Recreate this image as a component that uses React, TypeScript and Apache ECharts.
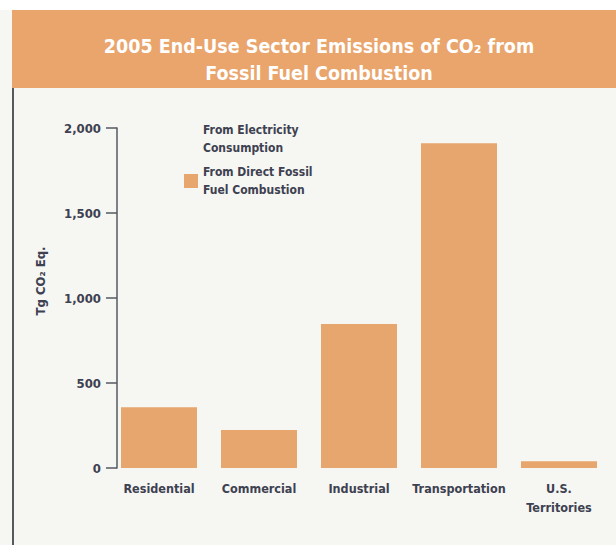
import React, { useEffect, useRef } from "react";
import * as echarts from "echarts";

const categories = ["Residential", "Commercial", "Industrial", "Transportation", "U.S.\nTerritories"];
const directFossil = [358, 224, 847, 1910, 40];
const electricity: number[] = [];
const yTicks = [0, 500, 1000, 1500, 2000];

const FONT = "'Liberation Sans Narrow', 'DejaVu Sans Condensed', 'Roboto', sans-serif";
const TEXT = "#3d4150";
const ORANGE = "#e6a66d";

export default function App() {
  const ref = useRef<HTMLDivElement>(null);
  useEffect(() => {
    if (!ref.current) return;
    const chart = echarts.init(ref.current, undefined, { renderer: "svg" });
    chart.setOption({
      animation: false,
      backgroundColor: "#f6f6f3",
      textStyle: { fontFamily: FONT },
      title: {
        text: "2005 End-Use Sector Emissions of CO₂ from\nFossil Fuel Combustion",
        left: 314,
        top: 28,
        textAlign: "center",
        textStyle: {
          color: "#ffffff",
          fontFamily: FONT,
          fontWeight: "bold",
          fontSize: 19.5,
          lineHeight: 27,
        },
      },
      graphic: [
        { type: "rect", left: 0, top: 0, shape: { width: 616, height: 10 }, style: { fill: "#ffffff" }, z: -10 },
        { type: "rect", left: 12, top: 10, shape: { width: 604, height: 78 }, style: { fill: "#e9a56c" }, z: -5 },
        { type: "rect", left: 12, top: 88, shape: { width: 2, height: 457 }, style: { fill: "#55585f" } },
        {
          type: "text",
          x: 40,
          y: 281,
          rotation: Math.PI / 2,
          style: {
            text: "Tg CO₂ Eq.",
            fill: TEXT,
            font: `bold 13px ${FONT}`,
            align: "center",
            verticalAlign: "middle",
          },
        },
      ],
      legend: {
        orient: "vertical",
        left: 179,
        top: 107,
        itemWidth: 14,
        itemHeight: 14,
        itemGap: -12,
        icon: "rect",
        selectedMode: false,
        data: [
          { name: "From Electricity\nConsumption", itemStyle: { color: "rgba(0,0,0,0)" } },
          { name: "From Direct Fossil\nFuel Combustion" },
        ],
        textStyle: {
          color: TEXT,
          fontFamily: FONT,
          fontWeight: "bold",
          fontSize: 12,
          lineHeight: 18,
          padding: [18, 0, 0, 0],
        },
      },
      grid: { left: 109, right: 7, top: 128, bottom: 77, containLabel: false },
      xAxis: {
        type: "category",
        data: categories,
        axisLine: { show: false },
        axisTick: { show: false },
        axisLabel: {
          interval: 0,
          color: TEXT,
          fontFamily: FONT,
          fontWeight: "bold",
          fontSize: 12.5,
          lineHeight: 19,
          margin: 11,
        },
      },
      yAxis: {
        type: "value",
        min: 0,
        max: 2000,
        interval: 500,
        offset: -8,
        splitLine: { show: false },
        axisLine: { show: true, lineStyle: { color: "#55585f", width: 1.5 } },
        axisTick: { show: true, length: 11, lineStyle: { color: "#55585f", width: 1.5 } },
        axisLabel: {
          color: TEXT,
          fontFamily: FONT,
          fontWeight: "bold",
          fontSize: 13,
          margin: 16,
          formatter: (v: number) => (yTicks.includes(v) ? v.toLocaleString("en-US") : ""),
        },
      },
      series: [
        {
          name: "From Electricity\nConsumption",
          type: "bar",
          stack: "total",
          data: electricity,
          barWidth: 76,
          itemStyle: { color: "rgba(0,0,0,0)" },
        },
        {
          name: "From Direct Fossil\nFuel Combustion",
          type: "bar",
          stack: "total",
          data: directFossil,
          barWidth: 76,
          itemStyle: { color: ORANGE },
        },
      ],
    });
    return () => chart.dispose();
  }, []);
  return (
    <div
      ref={ref}
      style={{ position: "fixed", left: 0, top: 0, width: 616, height: 545 }}
    />
  );
}
